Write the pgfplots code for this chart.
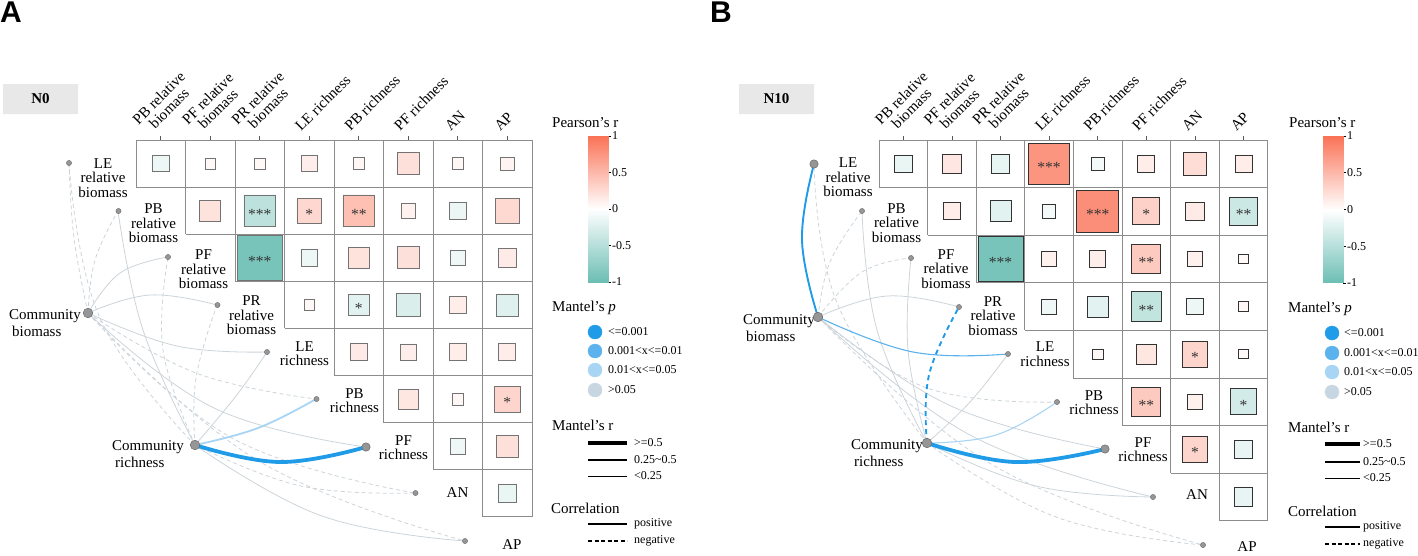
\documentclass[border=0pt]{standalone}
\usepackage{fontspec}
\setmainfont{Liberation Serif}
\setsansfont{Liberation Sans}
\usepackage{pgfplots}
\usepackage{pgfplotstable}
\pgfplotsset{compat=1.18}

\definecolor{pone}{RGB}{31,155,232}
\definecolor{ptwo}{RGB}{92,178,237}
\definecolor{pthree}{RGB}{168,213,243}
\definecolor{pfour}{RGB}{200,214,225}
\definecolor{lgray}{RGB}{204,212,218}
\definecolor{gridc}{RGB}{140,140,140}
\definecolor{dotf}{RGB}{150,150,150}
\definecolor{dotd}{RGB}{105,105,105}
\definecolor{boxc}{RGB}{232,232,232}

% rounded square mark
\pgfdeclareplotmark{rsquare*}{%
  \pgfsetcornersarced{\pgfpoint{1.8pt}{1.8pt}}%
  \pgfpathmoveto{\pgfqpoint{0pt}{-\pgfplotmarksize}}%
  \pgfpathlineto{\pgfqpoint{\pgfplotmarksize}{-\pgfplotmarksize}}%
  \pgfpathlineto{\pgfqpoint{\pgfplotmarksize}{\pgfplotmarksize}}%
  \pgfpathlineto{\pgfqpoint{-\pgfplotmarksize}{\pgfplotmarksize}}%
  \pgfpathlineto{\pgfqpoint{-\pgfplotmarksize}{-\pgfplotmarksize}}%
  \pgfpathlineto{\pgfqpoint{0pt}{-\pgfplotmarksize}}%
  \pgfpathclose
  \pgfusepathqfillstroke}

\pgfplotsset{
  colormap={prs}{rgb255(0cm)=(108,190,180); rgb255(1cm)=(255,255,255); rgb255(2cm)=(250,114,86)},
  lg/.style={smooth, tension=0.7, no marks, color=lgray, line width=0.8pt},
  lgd/.style={lg, dash pattern=on 4pt off 3pt},
  gridln/.style={no marks, color=gridc, line width=0.9pt, unbounded coords=jump},
  tickln/.style={no marks, color=black!65, line width=0.8pt, unbounded coords=jump},
}
\newcommand\fA{\fontsize{15}{14.5}\selectfont}
\newcommand\fB{\fontsize{12}{13}\selectfont}
\tikzset{lab/.style={font=\fA, align=center, inner sep=0pt},
  toplab/.style={font=\fA, align=center, inner sep=0pt, rotate=45, anchor=south west},
  leg/.style={font=\fB, inner sep=0pt, anchor=west},
  legt/.style={font=\fA, inner sep=0pt, anchor=west}}

% correlation matrices: row i, column j, Pearson r
\pgfplotstableread{
i j r
1 1 -0.12
1 2 0.05
1 3 0.05
1 4 0.12
1 5 0.06
1 6 0.22
1 7 0.06
1 8 0.08
2 2 0.20
2 3 -0.45
2 4 0.28
2 5 0.45
2 6 0.10
2 7 -0.13
2 8 0.27
3 3 -0.92
3 4 -0.12
3 5 0.20
3 6 0.22
3 7 -0.10
3 8 0.15
4 4 0.05
4 5 -0.20
4 6 -0.25
4 7 0.13
4 8 -0.22
5 5 0.14
5 6 0.12
5 7 0.13
5 8 0.13
6 6 0.18
6 7 0.06
6 8 0.30
7 7 -0.11
7 8 0.22
8 8 -0.14
}\cellsA
\pgfplotstableread{
i j s
2 3 ***
2 4 *
2 5 **
3 3 ***
4 5 *
6 8 *
}\starsA
\pgfplotstableread{
i j r
1 1 -0.14
1 2 0.17
1 3 -0.16
1 4 0.75
1 5 -0.08
1 6 0.13
1 7 0.24
1 8 0.13
2 2 0.13
2 3 -0.20
2 4 -0.08
2 5 0.80
2 6 0.33
2 7 0.15
2 8 -0.35
3 3 -0.92
3 4 0.10
3 5 0.12
3 6 0.38
3 7 0.10
3 8 0.04
4 4 -0.10
4 5 -0.20
4 6 -0.42
4 7 -0.12
4 8 0.05
5 5 0.05
5 6 0.18
5 7 0.30
5 8 0.04
6 6 0.38
6 7 0.10
6 8 -0.30
7 7 0.30
7 8 -0.15
8 8 -0.15
}\cellsB
\pgfplotstableread{
i j s
1 4 ***
2 5 ***
2 6 *
2 8 **
3 3 ***
3 6 **
4 6 **
5 7 *
6 6 **
6 8 *
7 7 *
}\starsB

\begin{document}
\begin{tikzpicture}
\useasboundingbox (0,0) rectangle (1418pt,555pt);
\begin{axis}[
  at={(0pt,0pt)}, anchor=south west,
  width=1418pt, height=555pt, scale only axis,
  xmin=0, xmax=1418, ymin=0, ymax=555, y dir=reverse,
  hide axis, clip=false,
  colormap name=prs, point meta min=-1, point meta max=1,
]
% ---------- panel labels and condition boxes
\node[anchor=north west, inner sep=0pt, font=\sffamily\bfseries\fontsize{30}{30}\selectfont] at (axis cs:0,2) {A};
\node[anchor=north west, inner sep=0pt, font=\sffamily\bfseries\fontsize{30}{30}\selectfont] at (axis cs:710,2) {B};
\addplot[fill=boxc, draw=none, no marks] coordinates {(3,84) (78,84) (78,114) (3,114) (3,84)};
\addplot[fill=boxc, draw=none, no marks] coordinates {(739,84) (814,84) (814,114) (739,114) (739,84)};
\node[font=\fA\bfseries, inner sep=0pt] at (axis cs:40.5,99) {N0};
\node[font=\fA\bfseries, inner sep=0pt] at (axis cs:776.5,99) {N10};

% ---------- grids
\addplot[gridln] coordinates {
(136,140) (532,140) (0,nan)
(136,187.1) (532,187.1) (0,nan)
(185.5,234.2) (532,234.2) (0,nan)
(235,281.3) (532,281.3) (0,nan)
(284.5,328.4) (532,328.4) (0,nan)
(334,375.5) (532,375.5) (0,nan)
(383.5,422.6) (532,422.6) (0,nan)
(433,469.7) (532,469.7) (0,nan)
(482.5,516.8) (532,516.8) (0,nan)
(136,140) (136,187.1) (0,nan)
(185.5,140) (185.5,234.2) (0,nan)
(235,140) (235,281.3) (0,nan)
(284.5,140) (284.5,328.4) (0,nan)
(334,140) (334,375.5) (0,nan)
(383.5,140) (383.5,422.6) (0,nan)
(433,140) (433,469.7) (0,nan)
(482.5,140) (482.5,516.8) (0,nan)
(532,140) (532,516.8)
};
\addplot[gridln] coordinates {
(879,140) (1267.8,140) (0,nan)
(879,187.6) (1267.8,187.6) (0,nan)
(927.6,235.2) (1267.8,235.2) (0,nan)
(976.2,282.8) (1267.8,282.8) (0,nan)
(1024.8,330.4) (1267.8,330.4) (0,nan)
(1073.4,378) (1267.8,378) (0,nan)
(1122,425.6) (1267.8,425.6) (0,nan)
(1170.6,473.2) (1267.8,473.2) (0,nan)
(1219.2,520.8) (1267.8,520.8) (0,nan)
(879,140) (879,187.6) (0,nan)
(927.6,140) (927.6,235.2) (0,nan)
(976.2,140) (976.2,282.8) (0,nan)
(1024.8,140) (1024.8,330.4) (0,nan)
(1073.4,140) (1073.4,378) (0,nan)
(1122,140) (1122,425.6) (0,nan)
(1170.6,140) (1170.6,473.2) (0,nan)
(1219.2,140) (1219.2,520.8) (0,nan)
(1267.8,140) (1267.8,520.8)
};
% top ticks
\addplot[tickln] coordinates {
(160.75,135.5) (160.75,140) (0,nan) (210.25,135.5) (210.25,140) (0,nan)
(259.75,135.5) (259.75,140) (0,nan) (309.25,135.5) (309.25,140) (0,nan)
(358.75,135.5) (358.75,140) (0,nan) (408.25,135.5) (408.25,140) (0,nan)
(457.75,135.5) (457.75,140) (0,nan) (507.25,135.5) (507.25,140)
};
\addplot[tickln] coordinates {
(903.3,135.5) (903.3,140) (0,nan) (951.9,135.5) (951.9,140) (0,nan)
(1000.5,135.5) (1000.5,140) (0,nan) (1049.1,135.5) (1049.1,140) (0,nan)
(1097.7,135.5) (1097.7,140) (0,nan) (1146.3,135.5) (1146.3,140) (0,nan)
(1194.9,135.5) (1194.9,140) (0,nan) (1243.5,135.5) (1243.5,140)
};

% ---------- correlation squares
\addplot[scatter, only marks, mark=rsquare*, point meta=\thisrow{r},
  scatter/use mapped color={draw=black!55, fill=mapped color},
  visualization depends on={23.5*sqrt(abs(\thisrow{r})) \as \msz},
  scatter/@pre marker code/.append style={/tikz/mark size=\msz},
  mark options={line width=0.6pt}]
  table[x expr=111.25+49.5*\thisrow{j}, y expr=116.45+47.1*\thisrow{i}] \cellsA;
\addplot[scatter, only marks, mark=rsquare*, point meta=\thisrow{r},
  scatter/use mapped color={draw=black!80, fill=mapped color},
  visualization depends on={23.5*sqrt(abs(\thisrow{r})) \as \msz},
  scatter/@pre marker code/.append style={/tikz/mark size=\msz},
  mark options={line width=0.9pt}]
  table[x expr=854.7+48.6*\thisrow{j}, y expr=116.2+47.6*\thisrow{i}] \cellsB;
\addplot[draw=none, no marks, nodes near coords, point meta=explicit symbolic,
  every node near coord/.append style={anchor=center, inner sep=0pt, yshift=-3.5pt, font=\fontsize{15.5}{15}\selectfont, text=black!80}]
  table[x expr=111.25+49.5*\thisrow{j}, y expr=116.45+47.1*\thisrow{i}, meta=s] \starsA;
\addplot[draw=none, no marks, nodes near coords, point meta=explicit symbolic,
  every node near coord/.append style={anchor=center, inner sep=0pt, yshift=-3.5pt, font=\fontsize{15.5}{15}\selectfont, text=black!80}]
  table[x expr=854.7+48.6*\thisrow{j}, y expr=116.2+47.6*\thisrow{i}, meta=s] \starsB;

% ---------- Mantel links, panel A
\addplot[lgd] coordinates {(88,313) (74,238) (69,163)};
\addplot[lgd] coordinates {(88,313) (95,260) (118,211)};
\addplot[lg]  coordinates {(88,313) (120,273) (168,257)};
\addplot[lg]  coordinates {(88,313) (150,295) (217,305)};
\addplot[lg]  coordinates {(88,313) (177,346) (267,352)};
\addplot[lgd] coordinates {(88,313) (196,373) (316,399)};
\addplot[lg]  coordinates {(88,313) (214,408) (366,447)};
\addplot[lgd] coordinates {(88,313) (232,438) (415,493)};
\addplot[lgd] coordinates {(88,313) (257,460) (465,541)};
\addplot[lgd] coordinates {(195,445) (100,318) (69,163)};
\addplot[lg]  coordinates {(195,445) (143,330) (118,211)};
\addplot[lgd] coordinates {(195,445) (163,350) (168,257)};
\addplot[lgd] coordinates {(195,445) (196,378) (217,305)};
\addplot[lg]  coordinates {(195,445) (236,396) (267,352)};
\addplot[lgd] coordinates {(195,445) (301,486) (415,493)};
\addplot[lg]  coordinates {(195,445) (322,516) (465,541)};
\addplot[lg, color=pthree, line width=1.8pt] coordinates {(195,445) (258,428) (316,399)};
\addplot[lg, color=pone, line width=3.8pt] coordinates {(195,445) (280,462) (366,447)};
% ---------- Mantel links, panel B
\addplot[lgd] coordinates {(818,317) (830,262) (862,211)};
\addplot[lgd] coordinates {(818,317) (862,272) (911,258)};
\addplot[lg]  coordinates {(818,317) (887,296) (959,307)};
\addplot[lgd] coordinates {(818,317) (927,388) (1057,402)};
\addplot[lg]  coordinates {(818,317) (951,406) (1105,449)};
\addplot[lg]  coordinates {(818,317) (970,435) (1153,497)};
\addplot[lgd] coordinates {(818,317) (991,464) (1203,545)};
\addplot[lgd] coordinates {(927,443) (837,303) (814,164)};
\addplot[lg]  coordinates {(927,443) (877,330) (862,211)};
\addplot[lg]  coordinates {(927,443) (908,350) (911,258)};
\addplot[lg]  coordinates {(927,443) (970,402) (1008,354)};
\addplot[lg]  coordinates {(927,443) (1036,486) (1153,497)};
\addplot[lgd] coordinates {(927,443) (1056,517) (1203,545)};
\addplot[lg, color=ptwo, line width=1.1pt] coordinates {(818,317) (913,352) (1008,354)};
\addplot[lg, color=pthree, line width=1.1pt] coordinates {(927,443) (996,435) (1057,402)};
\addplot[lg, color=pone, line width=1.9pt] coordinates {(818,317) (802,240) (814,164)};
\addplot[lg, color=pone, line width=1.9pt, dash pattern=on 5pt off 4pt] coordinates {(927,443) (929,375) (959,307)};
\addplot[lg, color=pone, line width=3.8pt] coordinates {(927,443) (1015,462) (1105,449)};

% ---------- nodes
\addplot[only marks, mark=*, mark size=2.6pt, mark options={fill=dotf, draw=dotd, line width=0.4pt}] coordinates {
(69,163) (118.5,211) (168,257) (217.5,305) (267,352) (316.5,399) (415.5,493) (465,541)
(862,211) (911,258) (959,307) (1008,354) (1057,402) (1153,497) (1203,545)};
\addplot[only marks, mark=*, mark size=4.2pt, mark options={fill=dotf, draw=dotd, line width=0.5pt}] coordinates {
(366,447) (814,164) (1105,449)};
\addplot[only marks, mark=*, mark size=4.8pt, mark options={fill=dotf, draw=dotd, line width=0.5pt}] coordinates {
(88,313) (195,445) (818,317) (927,443)};

% ---------- labels panel A
\node[lab] at (axis cs:103,178) {LE\\relative\\biomass};
\node[lab] at (axis cs:153.5,223.5) {PB\\relative\\biomass};
\node[lab] at (axis cs:203.5,269.5) {PF\\relative\\biomass};
\node[lab] at (axis cs:251.5,315.5) {PR\\relative\\biomass};
\node[lab] at (axis cs:304.5,353.5) {LE\\richness};
\node[lab] at (axis cs:354.5,400.5) {PB\\richness};
\node[lab] at (axis cs:403.5,447.5) {PF\\richness};
\node[lab] at (axis cs:457.5,493) {AN};
\node[lab] at (axis cs:512,545) {AP};
\node[lab, align=left, anchor=west, font=\fontsize{15}{17}\selectfont] at (axis cs:9,323) {Community\\\hspace*{3pt}biomass};
\node[lab, align=left, anchor=west, font=\fontsize{15}{17}\selectfont] at (axis cs:112,454) {Community\\\hspace*{3pt}richness};
\node[toplab] at (axis cs:149,136) {PB relative\\biomass};
\node[toplab] at (axis cs:198.5,136) {PF relative\\biomass};
\node[toplab] at (axis cs:248,136) {PR relative\\biomass};
\node[toplab] at (axis cs:301.25,132) {LE richness};
\node[toplab] at (axis cs:350.75,132) {PB richness};
\node[toplab] at (axis cs:400.25,132) {PF richness};
\node[toplab] at (axis cs:450.75,132) {AN};
\node[toplab] at (axis cs:500.25,132) {AP};
% ---------- labels panel B
\node[lab] at (axis cs:848,177.5) {LE\\relative\\biomass};
\node[lab] at (axis cs:896.5,222.7) {PB\\relative\\biomass};
\node[lab] at (axis cs:946,269) {PF\\relative\\biomass};
\node[lab] at (axis cs:993,315.7) {PR\\relative\\biomass};
\node[lab] at (axis cs:1045,354) {LE\\richness};
\node[lab] at (axis cs:1094,402.5) {PB\\richness};
\node[lab] at (axis cs:1143,449.5) {PF\\richness};
\node[lab] at (axis cs:1197,495) {AN};
\node[lab] at (axis cs:1247,547) {AP};
\node[lab, align=left, anchor=west, font=\fontsize{15}{17}\selectfont] at (axis cs:743,328.5) {Community\\\hspace*{3pt}biomass};
\node[lab, align=left, anchor=west, font=\fontsize{15}{17}\selectfont] at (axis cs:851,453.5) {Community\\\hspace*{3pt}richness};
\node[toplab] at (axis cs:891.5,136) {PB relative\\biomass};
\node[toplab] at (axis cs:940.1,136) {PF relative\\biomass};
\node[toplab] at (axis cs:988.7,136) {PR relative\\biomass};
\node[toplab] at (axis cs:1041.1,132) {LE richness};
\node[toplab] at (axis cs:1089.7,132) {PB richness};
\node[toplab] at (axis cs:1138.3,132) {PF richness};
\node[toplab] at (axis cs:1187.9,132) {AN};
\node[toplab] at (axis cs:1236.5,132) {AP};

% ---------- legends panel A
\node[legt] at (axis cs:552,123) {Pearson’s r};
\node[legt] at (axis cs:552,308) {Mantel’s \textit{p}};
\addplot[only marks, mark=*, mark size=7pt, mark options={fill=pone, draw=pone}] coordinates {(595,332) (1332,333)};
\addplot[only marks, mark=*, mark size=7pt, mark options={fill=ptwo, draw=ptwo}] coordinates {(595,351) (1332,353)};
\addplot[only marks, mark=*, mark size=7pt, mark options={fill=pthree, draw=pthree}] coordinates {(595,370) (1332,372)};
\addplot[only marks, mark=*, mark size=7pt, mark options={fill=pfour, draw=pfour}] coordinates {(595,390) (1332,392)};
\node[leg] at (axis cs:608,332) {<=0.001};
\node[leg] at (axis cs:608,351) {0.001<x<=0.01};
\node[leg] at (axis cs:608,370) {0.01<x<=0.05};
\node[leg] at (axis cs:608,390) {>0.05};
\node[legt] at (axis cs:552,425) {Mantel’s r};
\addplot[no marks, black, line width=4pt] coordinates {(588,443) (627,443)};
\addplot[no marks, black, line width=2pt] coordinates {(588,460) (627,460)};
\addplot[no marks, black, line width=1pt] coordinates {(588,476) (627,476)};
\node[leg] at (axis cs:634,443) {>=0.5};
\node[leg] at (axis cs:634,460) {0.25\textasciitilde0.5};
\node[leg] at (axis cs:634,476) {<0.25};
\node[legt] at (axis cs:551,508) {Correlation};
\addplot[no marks, black, line width=1.6pt] coordinates {(588,524) (627,524)};
\addplot[no marks, black, line width=1.6pt, dash pattern=on 4pt off 2.5pt] coordinates {(588,541) (627,541)};
\node[leg] at (axis cs:634,524) {positive};
\node[leg] at (axis cs:634,541) {negative};
% ---------- legends panel B
\node[legt] at (axis cs:1289,123) {Pearson’s r};
\node[legt] at (axis cs:1288,309) {Mantel’s \textit{p}};
\node[leg] at (axis cs:1344,333) {<=0.001};
\node[leg] at (axis cs:1344,353) {0.001<x<=0.01};
\node[leg] at (axis cs:1344,372) {0.01<x<=0.05};
\node[leg] at (axis cs:1344,392) {>0.05};
\node[legt] at (axis cs:1288,427) {Mantel’s r};
\addplot[no marks, black, line width=4pt] coordinates {(1325,444) (1360,444)};
\addplot[no marks, black, line width=2pt] coordinates {(1325,462) (1360,462)};
\addplot[no marks, black, line width=1pt] coordinates {(1325,478) (1360,478)};
\node[leg] at (axis cs:1363,444) {>=0.5};
\node[leg] at (axis cs:1363,462) {0.25\textasciitilde0.5};
\node[leg] at (axis cs:1363,478) {<0.25};
\node[legt] at (axis cs:1288,511) {Correlation};
\addplot[no marks, black, line width=1.6pt] coordinates {(1325,527) (1360,527)};
\addplot[no marks, black, line width=1.6pt, dash pattern=on 4pt off 2.5pt] coordinates {(1325,544) (1360,544)};
\node[leg] at (axis cs:1363,527) {positive};
\node[leg] at (axis cs:1363,544) {negative};
\end{axis}

% ---------- colour bars
\begin{axis}[at={(588pt,273pt)}, anchor=south west, width=20pt, height=146pt, scale only axis,
  xmin=0, xmax=1, ymin=-1, ymax=1, axis x line=none, axis y line*=right,
  y axis line style={draw=none}, xtick=\empty,
  ytick={-1,-0.5,0,0.5,1}, yticklabels={-1,-0.5,0,0.5,1},
  tick align=outside, major tick length=3pt, tick style={black, line width=0.6pt},
  yticklabel style={font=\fB, inner sep=1pt},
  colormap name=prs, point meta min=-1, point meta max=1]
\addplot[surf, shader=interp, point meta=y, mesh/rows=3, mesh/cols=2] coordinates {(0,-1) (1,-1) (0,0) (1,0) (0,1) (1,1)};
\end{axis}
\begin{axis}[at={(1323pt,272pt)}, anchor=south west, width=20pt, height=147pt, scale only axis,
  xmin=0, xmax=1, ymin=-1, ymax=1, axis x line=none, axis y line*=right,
  y axis line style={draw=none}, xtick=\empty,
  ytick={-1,-0.5,0,0.5,1}, yticklabels={-1,-0.5,0,0.5,1},
  tick align=outside, major tick length=3pt, tick style={black, line width=0.6pt},
  yticklabel style={font=\fB, inner sep=1pt},
  colormap name=prs, point meta min=-1, point meta max=1]
\addplot[surf, shader=interp, point meta=y, mesh/rows=3, mesh/cols=2] coordinates {(0,-1) (1,-1) (0,0) (1,0) (0,1) (1,1)};
\end{axis}
\end{tikzpicture}
\end{document}
